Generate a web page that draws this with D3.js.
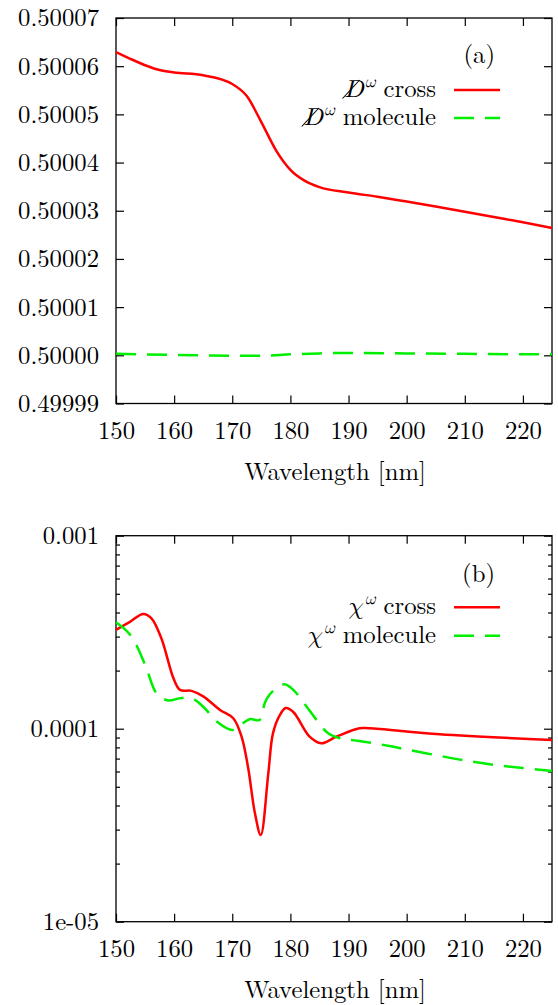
<!DOCTYPE html>
<html>
<head>
<meta charset="utf-8">
<script src="https://cdn.jsdelivr.net/npm/d3@7"></script>
<style>
    body { margin: 0; background: #fff; }
</style>
</head>
<body>
<div id="chart"></div>
<script>
// x axis (both panels)
const xTickValues = [150, 160, 170, 180, 190, 200, 210, 220];
const xDomain = [150, 225];

// panel (a): slashed D
const yTickLabelsA = ["0.49999", "0.50000", "0.50001", "0.50002", "0.50003", "0.50004", "0.50005", "0.50006", "0.50007"];
const wavelengthCrossA = [150, 152, 155, 157.5, 160, 165, 170, 172.5, 175, 177.5, 180, 182.5, 185, 190, 195, 200, 205, 210, 215, 220, 225];
const diracCross = [0.5000629, 0.5000618, 0.5000602, 0.5000592, 0.5000587, 0.5000581, 0.5000563, 0.5000538, 0.5000484, 0.5000426,
    0.5000385, 0.5000362, 0.5000349, 0.5000338, 0.5000329, 0.5000319, 0.5000309, 0.5000298, 0.5000287, 0.5000276, 0.5000264];
const wavelengthMolA = [150, 160, 170, 175, 180, 185, 190, 200, 210, 220, 225];
const diracMolecule = [0.5000003, 0.5000001, 0.4999999, 0.4999999, 0.5000002, 0.5000004, 0.5000005, 0.5000004, 0.5000003, 0.5000002, 0.5000002];

// panel (b): chi, log scale
const yTickValuesB = [1e-5, 1e-4, 1e-3];
const yTickLabelsB = ["1e-05", "0.0001", "0.001"];
const wavelengthCrossB = [150, 152.4, 154.7, 156.1, 157.8, 159.9, 161, 163, 165, 167.9, 170.2, 171.6, 172.7, 173.9, 174.9,
    176.2, 177, 178.2, 179.2, 180.5, 183.3, 185.3, 187.9, 191.9, 193.6, 205.7, 225];
const chiCross = [3.25e-4, 3.58e-4, 3.93e-4, 3.73e-4, 2.94e-4, 1.82e-4, 1.59e-4, 1.57e-4, 1.47e-4, 1.25e-4, 1.13e-4, 9.09e-5, 6.35e-5, 3.65e-5, 2.81e-5,
    5.87e-5, 9.46e-5, 1.18e-4, 1.28e-4, 1.22e-4, 9.09e-5, 8.4e-5, 9.09e-5, 1.005e-4, 1.005e-4, 9.35e-5, 8.74e-5];
const wavelengthMolB = [150, 152.5, 155, 157, 159, 161, 163, 165, 167.5, 170, 171.5, 173, 174.7, 175.6, 176.4, 177.6, 179,
    180.5, 182.8, 184.5, 186.5, 188.5, 191.5, 197, 200, 205, 210, 215, 220, 225];
const chiMolecule = [3.56e-4, 3.05e-4, 2.15e-4, 1.52e-4, 1.40e-4, 1.44e-4, 1.44e-4, 1.30e-4, 1.08e-4, 9.85e-5, 1.05e-4, 1.12e-4, 1.11e-4, 1.36e-4, 1.50e-4, 1.62e-4, 1.70e-4,
    1.59e-4, 1.30e-4, 1.11e-4, 9.46e-5, 8.92e-5, 8.67e-5, 8.14e-5, 7.8e-5, 7.3e-5, 6.85e-5, 6.5e-5, 6.25e-5, 6.04e-5];

const RED = "#ff0000";
const GREEN = "#00ee00";
const FONT = 24.7;
const SERIF = '"Latin Modern Roman"';
const MATH = '"Latin Modern Math", "Latin Modern Roman", "DejaVu Serif"';

const svg = d3.select("#chart").append("svg")
    .attr("width", 558)
    .attr("height", 1005)
    .style("display", "block");

// One gnuplot-like panel: box, inward ticks mirrored on all four sides
class SpectrumPanel {
    constructor(_config) {
        this.config = {
            top: _config.top,
            left: 116,
            width: 436,
            height: _config.height,
            yScale: _config.yScale,
            yTicks: _config.yTicks,
            yLabel: _config.yLabel,
            isMajor: _config.isMajor || (() => true),
            curve: _config.curve,
            tag: _config.tag
        };
        this.initVis();
    }

    initVis() {
        const vis = this;
        const c = vis.config;
        vis.g = svg.append("g").attr("transform", `translate(${c.left},${c.top})`);

        vis.x = d3.scaleLinear().domain(xDomain).range([0, c.width]);
        vis.y = c.yScale.range([c.height, 0]);

        vis.line = d3.line()
            .x(d => vis.x(d[0]))
            .y(d => vis.y(d[1]))
            .curve(c.curve);

        // bottom + top
        vis.g.append("g")
            .attr("transform", `translate(0,${c.height})`)
            .call(d3.axisBottom(vis.x).tickValues(xTickValues).tickSize(-8).tickPadding(18).tickSizeOuter(0))
            .call(ax => ax.select(".domain").remove());
        vis.g.append("g")
            .call(d3.axisTop(vis.x).tickValues(xTickValues).tickSize(-8).tickFormat("").tickSizeOuter(0))
            .call(ax => ax.select(".domain").remove());

        // left + right
        vis.g.append("g")
            .call(d3.axisLeft(vis.y).tickValues(c.yTicks).tickSize(-8).tickPadding(17).tickFormat(c.yLabel).tickSizeOuter(0))
            .call(ax => ax.select(".domain").remove())
            .call(ax => ax.selectAll(".tick line").attr("x2", d => c.isMajor(d) ? 8 : 4));
        vis.g.append("g")
            .attr("transform", `translate(${c.width},0)`)
            .call(d3.axisRight(vis.y).tickValues(c.yTicks).tickSize(-8).tickFormat("").tickSizeOuter(0))
            .call(ax => ax.select(".domain").remove())
            .call(ax => ax.selectAll(".tick line").attr("x2", d => c.isMajor(d) ? -8 : -4));

        vis.g.selectAll(".tick line").attr("stroke", "#000").attr("stroke-width", 1.2);
        vis.g.selectAll(".tick text")
            .style("font-family", SERIF)
            .attr("font-size", FONT)
            .attr("fill", "#000");

        vis.g.append("rect")
            .attr("width", c.width)
            .attr("height", c.height)
            .attr("fill", "none")
            .attr("stroke", "#000")
            .attr("stroke-width", 1.3);

        vis.g.append("text")
            .attr("x", c.width / 2 + 1)
            .attr("y", c.height + 76.5)
            .attr("text-anchor", "middle")
            .style("font-family", SERIF)
            .attr("font-size", FONT)
            .text("Wavelength [nm]");

        vis.g.append("text")
            .attr("x", 379)
            .attr("y", c.tag.y)
            .attr("text-anchor", "end")
            .style("font-family", SERIF)
            .attr("font-size", FONT)
            .text(c.tag.text);
    }

    addSeries(xs, ys, color, dash) {
        const vis = this;
        vis.g.append("path")
            .datum(xs.map((d, i) => [d, ys[i]]))
            .attr("fill", "none")
            .attr("stroke", color)
            .attr("stroke-width", 2.5)
            .attr("stroke-dasharray", dash)
            .attr("d", vis.line);
    }

    addLegendRow(symbol, slashed, label, y, color, dash) {
        const vis = this;
        const t = vis.g.append("text")
            .attr("x", 320)
            .attr("y", y)
            .attr("text-anchor", "end")
            .style("font-family", SERIF)
            .attr("font-size", FONT);
        t.append("tspan").style("font-family", MATH).attr("font-style", "italic").text(symbol);
        t.append("tspan").style("font-family", MATH).attr("font-size", 17).attr("dy", -10).attr("dx", 1)
            .attr("font-style", "italic").text("ω");
        t.append("tspan").attr("dy", 10).text(" " + label);

        if (slashed) {
            const box = t.node().getExtentOfChar(0);
            vis.g.append("line")
                .attr("x1", box.x - 2)
                .attr("y1", y + 1.5)
                .attr("x2", box.x + box.width * 0.8)
                .attr("y2", y - 17)
                .attr("stroke", "#000")
                .attr("stroke-width", 1.1);
        }

        vis.g.append("line")
            .attr("x1", 338).attr("x2", 384)
            .attr("y1", y - 7).attr("y2", y - 7)
            .attr("stroke", color)
            .attr("stroke-width", 2.5)
            .attr("stroke-dasharray", dash);
    }
}

// panel (a)
const panelA = new SpectrumPanel({
    top: 18,
    height: 385.5,
    yScale: d3.scaleLinear().domain([+yTickLabelsA[0], +yTickLabelsA[yTickLabelsA.length - 1]]),
    yTicks: yTickLabelsA.map(Number),
    yLabel: d => d3.format(".5f")(d),
    curve: d3.curveMonotoneX,
    tag: { text: "(a)", y: 45 }
});
panelA.addSeries(wavelengthCrossA, diracCross, RED, null);
panelA.addSeries(wavelengthMolA, diracMolecule, GREEN, "20,11");
panelA.addLegendRow("D", true, "cross", 79, RED, null);
panelA.addLegendRow("D", true, "molecule", 107, GREEN, "20,11");

// panel (b)
const logY = d3.scaleLog().domain([yTickValuesB[0], yTickValuesB[yTickValuesB.length - 1]]);
const isDecade = d => Math.abs(Math.log10(d) - Math.round(Math.log10(d))) < 1e-9;
const labelB = d => {
    const i = yTickValuesB.findIndex(v => Math.abs(v - d) / v < 1e-9);
    return i < 0 ? "" : yTickLabelsB[i];
};
const panelB = new SpectrumPanel({
    top: 535.7,
    height: 386,
    yScale: logY,
    yTicks: logY.ticks(),
    yLabel: labelB,
    isMajor: isDecade,
    curve: d3.curveCatmullRom,
    tag: { text: "(b)", y: 46 }
});
panelB.addSeries(wavelengthCrossB, chiCross, RED, null);
panelB.addSeries(wavelengthMolB, chiMolecule, GREEN, "20,11");
panelB.addLegendRow("χ", false, "cross", 78.5, RED, null);
panelB.addLegendRow("χ", false, "molecule", 107, GREEN, "20,11");
</script>
</body>
</html>
